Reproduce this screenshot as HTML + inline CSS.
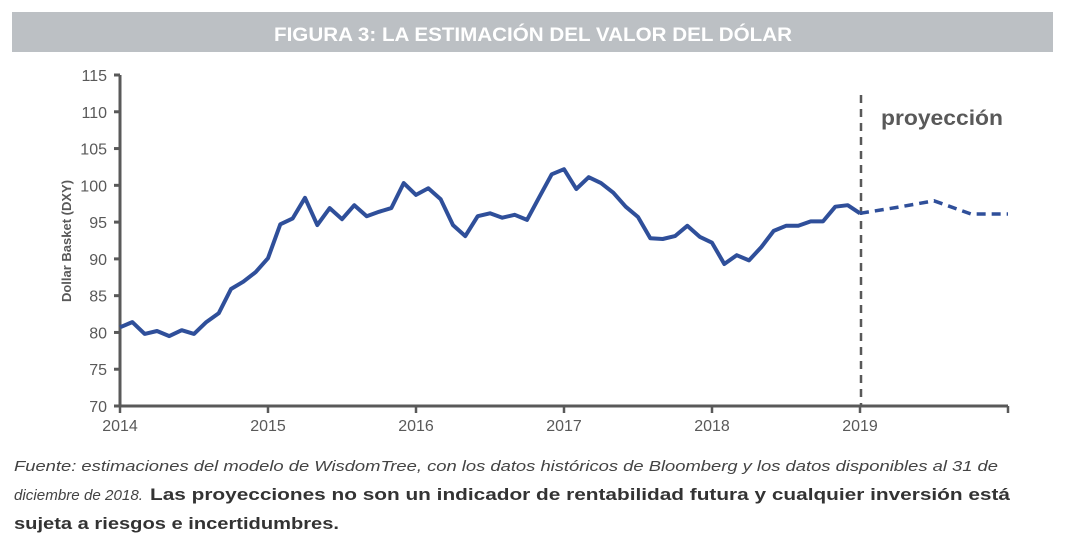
<!DOCTYPE html>
<html><head><meta charset="utf-8"><style>
html,body{margin:0;padding:0;background:#fff;}
svg{display:block;font-family:"Liberation Sans",sans-serif;}
</style></head><body>
<svg id="c" width="1076" height="540" viewBox="0 0 1076 540">
<rect x="12" y="12" width="1041" height="40" fill="#bcc0c4"/>
<text x="274" y="41" font-size="19" font-weight="bold" fill="#fff" textLength="518" lengthAdjust="spacingAndGlyphs">FIGURA 3: LA ESTIMACIÓN DEL VALOR DEL DÓLAR</text>
<g id="axes"></g>
<g id="plot"></g>
<text x="71" y="241" transform="rotate(-90 71 241)" text-anchor="middle" font-size="13" font-weight="bold" fill="#595959">Dollar Basket (DXY)</text>
<text x="881" y="125" font-size="21" font-weight="bold" fill="#595959" textLength="122" lengthAdjust="spacingAndGlyphs">proyección</text>
<text x="14" y="471" font-size="15" font-style="italic" fill="#444" textLength="984" lengthAdjust="spacingAndGlyphs">Fuente: estimaciones del modelo de WisdomTree, con los datos históricos de Bloomberg y los datos disponibles al 31 de</text>
<text x="14" y="500" font-size="15" font-style="italic" fill="#444" textLength="129" lengthAdjust="spacingAndGlyphs">diciembre de 2018.</text>
<text x="150" y="500" font-size="17" font-weight="bold" fill="#333" textLength="860" lengthAdjust="spacingAndGlyphs">Las proyecciones no son un indicador de rentabilidad futura y cualquier inversión está</text>
<text x="14" y="529" font-size="17" font-weight="bold" fill="#333" textLength="325" lengthAdjust="spacingAndGlyphs">sujeta a riesgos e incertidumbres.</text>
</svg>
<script>
const yTicks=[70,75,80,85,90,95,100,105,110,115];
const xYears=[2014,2015,2016,2017,2018,2019];
const historical=[80.7,81.4,79.8,80.2,79.5,80.3,79.8,81.4,82.6,85.9,86.9,88.2,90.1,94.7,95.5,98.3,94.6,96.9,95.4,97.3,95.8,96.4,96.9,100.3,98.7,99.6,98.1,94.6,93.1,95.8,96.2,95.6,96.0,95.3,98.4,101.5,102.2,99.5,101.1,100.3,99.0,97.1,95.7,92.8,92.7,93.1,94.5,93.0,92.2,89.3,90.5,89.8,91.6,93.8,94.5,94.5,95.1,95.1,97.1,97.3,96.2];
const projection=[96.2,97.0,97.9,96.1,96.1];
const NS='http://www.w3.org/2000/svg';
const x0=120,x1=1008,yb=406,yt=75;
const xs=t=>x0+(t-2014)*(x1-x0)/6;
const ys=v=>yb-(v-70)*(yb-yt)/45;
function mk(tag,attrs,parent){const e=document.createElementNS(NS,tag);for(const k in attrs)e.setAttribute(k,attrs[k]);parent.appendChild(e);return e;}
const ax=document.getElementById('axes'),pl=document.getElementById('plot');
let e=mk('line',{x1:x0,y1:yt,x2:x0,y2:yb+1,stroke:'#595959','stroke-width':3},ax);


e=mk('line',{x1:x0,y1:yb,x2:x1,y2:yb,stroke:'#595959','stroke-width':3},ax);


yTicks.forEach(v=>{
  const t=mk('line',{x1:x0-6,y1:ys(v),x2:x0,y2:ys(v),stroke:'#595959','stroke-width':3},ax);
  
  
  const l=mk('text',{x:x0-13,y:ys(v)+6,'text-anchor':'end','font-size':16,fill:'#595959'},ax);
  l.textContent=v;
  
  
});
xYears.concat([2020]).forEach(yr=>{
  const t=mk('line',{x1:xs(yr),y1:yb,x2:xs(yr),y2:yb+7,stroke:'#595959','stroke-width':2.5},ax);
  
  
});
xYears.forEach(yr=>{
  const l=mk('text',{x:xs(yr),y:yb+25,'text-anchor':'middle','font-size':16,fill:'#595959'},ax);
  l.textContent=yr;
  
  
});
e=mk('line',{x1:xs(2019)+1,y1:95,x2:xs(2019)+1,y2:yb,stroke:'#595959','stroke-width':2.5,'stroke-dasharray':'8,6'},pl);


const hp=historical.map((v,i)=>xs(2014+i/12).toFixed(1)+','+ys(v).toFixed(1)).join(' ');
e=mk('polyline',{points:hp,fill:'none',stroke:'#2f4f9a','stroke-width':4,'stroke-linejoin':'round'},pl);


const pp=projection.map((v,i)=>xs(2019+i/4).toFixed(1)+','+ys(v).toFixed(1)).join(' ');
e=mk('polyline',{points:pp,fill:'none',stroke:'#2f4f9a','stroke-width':3.5,'stroke-dasharray':'9,6'},pl);


</script>
</body></html>
